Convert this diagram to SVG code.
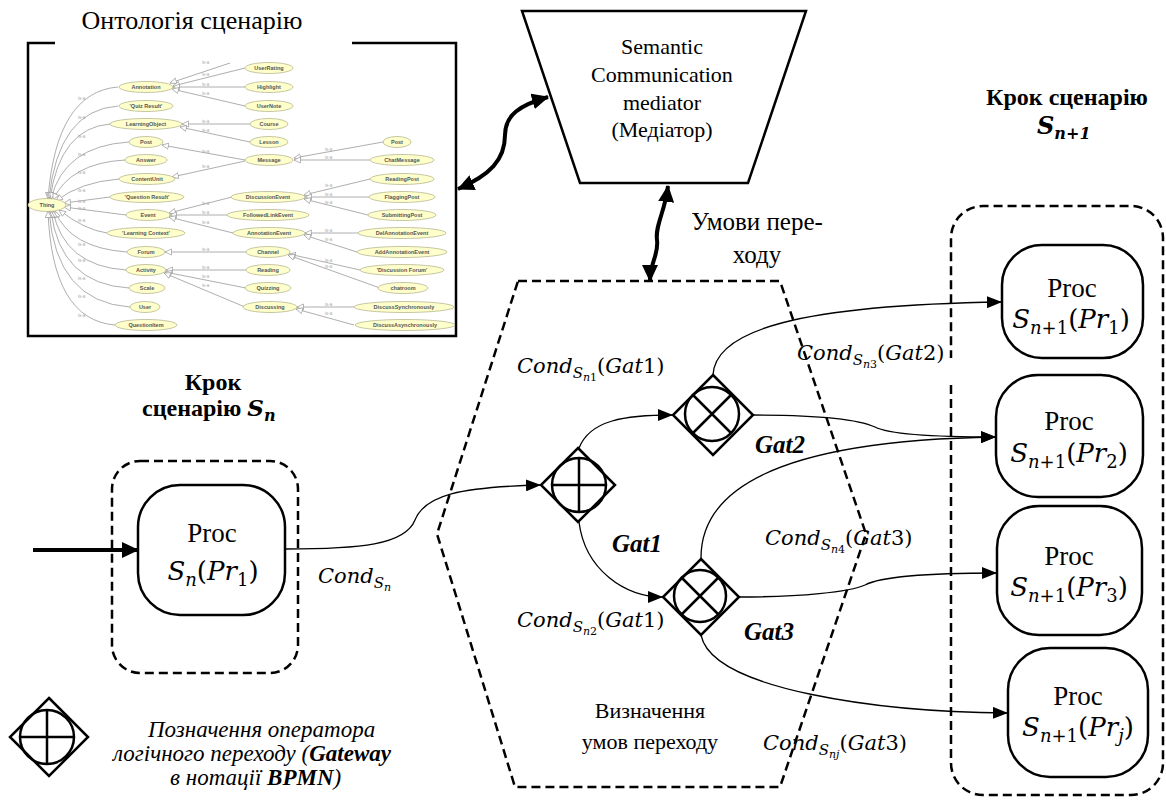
<svg xmlns="http://www.w3.org/2000/svg" width="1166" height="809" viewBox="0 0 1166 809">
<style>
.serif{font-family:"Liberation Serif","Times New Roman",serif;fill:#000}
.math{font-family:"DejaVu Serif","Liberation Serif",serif;fill:#000}
.ont{fill:#ffffcc;stroke:#b8b890;stroke-width:0.8}
.ol{font-family:"Liberation Sans",Arial,sans-serif;font-weight:bold;font-size:5.5px;fill:#555;text-anchor:middle}
.isa{font-family:"Liberation Sans",Arial,sans-serif;font-size:4.5px;fill:#aaa}
.oe{fill:none;stroke:#999;stroke-width:0.8;marker-start:url(#hol)}
.dash{fill:none;stroke:#000;stroke-width:2.5;stroke-dasharray:9,5}
.box{fill:#fff;stroke:#000;stroke-width:2.5}
.gw{fill:none;stroke:#000;stroke-width:2.5}
.con{fill:none;stroke:#000;stroke-width:1.3;marker-end:url(#ah)}
.thick{fill:none;stroke:#000;stroke-width:4}
</style>
<defs>
<marker id="ah" markerUnits="userSpaceOnUse" markerWidth="16" markerHeight="12" refX="15" refY="6" orient="auto"><path d="M0,0 L15,6 L0,12 z" fill="#000"/></marker>
<marker id="tk" markerUnits="userSpaceOnUse" markerWidth="18" markerHeight="16" refX="16" refY="8" orient="auto-start-reverse"><path d="M0,0 L17,8 L0,16 z" fill="#000"/></marker>
<marker id="hol" markerUnits="userSpaceOnUse" markerWidth="8" markerHeight="8" refX="7" refY="3.5" orient="auto-start-reverse"><path d="M0.5,0.5 L7,3.5 L0.5,6.5 z" fill="#fff" stroke="#999" stroke-width="0.7"/></marker>
</defs>

<!-- Ontology picture -->
<g id="ontology">
<text class="serif" x="192" y="29" font-size="26" text-anchor="middle">Онтологія сценарію</text>
<path d="M55,43 L28,43 L28,336 L456,336 L456,43 L352,43" fill="none" stroke="#000" stroke-width="2.5"/>
<g id="ont-edges">
<path class="oe" d="M48,199 Q56,92 118,87"/>
<path class="oe" d="M49,199 Q58,110 118,106"/>
<path class="oe" d="M50,199 Q60,128 110,124"/>
<path class="oe" d="M51,199 Q64,146 129,142"/>
<path class="oe" d="M53,200 Q70,163 125,160"/>
<path class="oe" d="M56,201 Q80,182 119,179"/>
<path class="oe" d="M64,203 L110,197"/>
<path class="oe" d="M64,207 L126,215"/>
<path class="oe" d="M59,210 Q85,230 107,233"/>
<path class="oe" d="M55,211 Q70,248 127,252"/>
<path class="oe" d="M53,211 Q64,266 126,270"/>
<path class="oe" d="M51,211 Q60,284 129,288"/>
<path class="oe" d="M49,211 Q56,302 130,307"/>
<path class="oe" d="M48,211 Q52,320 115,325"/>
<path class="oe" d="M170,83 L230,63"/>
<path class="oe" d="M173,86 L245,68"/>
<path class="oe" d="M173,87 L245,87"/>
<path class="oe" d="M172,89 L245,106"/>
<path class="oe" d="M182,124 L250,124"/>
<path class="oe" d="M180,127 L250,142"/>
<path class="oe" d="M162,145 L245,160"/>
<path class="oe" d="M172,177 L245,161"/>
<path class="oe" d="M294,158 L383,142"/>
<path class="oe" d="M294,160 L370,160"/>
<path class="oe" d="M304,195 L370,179"/>
<path class="oe" d="M305,197 L369,197"/>
<path class="oe" d="M304,199 L368,215"/>
<path class="oe" d="M169,213 L232,197"/>
<path class="oe" d="M170,215 L227,215"/>
<path class="oe" d="M169,217 L233,233"/>
<path class="oe" d="M305,233 L358,233"/>
<path class="oe" d="M304,235 L357,252"/>
<path class="oe" d="M165,252 L246,252"/>
<path class="oe" d="M289,254 L360,270"/>
<path class="oe" d="M288,255 L380,288"/>
<path class="oe" d="M166,270 L246,270"/>
<path class="oe" d="M165,272 L246,288"/>
<path class="oe" d="M164,273 L245,307"/>
<path class="oe" d="M297,307 L354,307"/>
<path class="oe" d="M296,309 L354,325"/>
</g>
<g id="ont-isa">
<text class="isa" x="78" y="100">is-a</text><text class="isa" x="78" y="119">is-a</text>
<text class="isa" x="78" y="138">is-a</text><text class="isa" x="78" y="156">is-a</text>
<text class="isa" x="78" y="174">is-a</text><text class="isa" x="78" y="192">is-a</text>
<text class="isa" x="78" y="203">is-a</text><text class="isa" x="78" y="210">is-a</text>
<text class="isa" x="78" y="222">is-a</text><text class="isa" x="78" y="246">is-a</text>
<text class="isa" x="78" y="262">is-a</text><text class="isa" x="78" y="280">is-a</text>
<text class="isa" x="78" y="298">is-a</text><text class="isa" x="78" y="317">is-a</text>
<text class="isa" x="202" y="64">is-a</text><text class="isa" x="202" y="76">is-a</text>
<text class="isa" x="202" y="86">is-a</text><text class="isa" x="202" y="95">is-a</text>
<text class="isa" x="202" y="123">is-a</text><text class="isa" x="202" y="132">is-a</text>
<text class="isa" x="202" y="153">is-a</text><text class="isa" x="202" y="168">is-a</text>
<text class="isa" x="202" y="205">is-a</text><text class="isa" x="202" y="214">is-a</text>
<text class="isa" x="202" y="224">is-a</text><text class="isa" x="202" y="251">is-a</text>
<text class="isa" x="202" y="269">is-a</text><text class="isa" x="202" y="278">is-a</text>
<text class="isa" x="202" y="287">is-a</text>
<text class="isa" x="325" y="151">is-a</text><text class="isa" x="325" y="159">is-a</text>
<text class="isa" x="325" y="187">is-a</text><text class="isa" x="325" y="196">is-a</text>
<text class="isa" x="325" y="204">is-a</text><text class="isa" x="325" y="232">is-a</text>
<text class="isa" x="325" y="241">is-a</text><text class="isa" x="325" y="262">is-a</text>
<text class="isa" x="325" y="268">is-a</text><text class="isa" x="325" y="306">is-a</text>
<text class="isa" x="325" y="315">is-a</text>
</g>
<g id="ont-nodes">
<ellipse class="ont" cx="47" cy="205" rx="19" ry="6.5"/><text class="ol" x="47" y="207">Thing</text>
<ellipse class="ont" cx="146" cy="87" rx="27" ry="5.5"/><text class="ol" x="146" y="89">Annotation</text>
<ellipse class="ont" cx="146" cy="106" rx="27" ry="5.5"/><text class="ol" x="146" y="108">'Quiz Result'</text>
<ellipse class="ont" cx="146" cy="124" rx="36" ry="5.5"/><text class="ol" x="146" y="126">LearningObject</text>
<ellipse class="ont" cx="146" cy="142" rx="17" ry="5.5"/><text class="ol" x="146" y="144">Post</text>
<ellipse class="ont" cx="146" cy="160" rx="21" ry="5.5"/><text class="ol" x="146" y="162">Answer</text>
<ellipse class="ont" cx="147" cy="179" rx="28" ry="5.5"/><text class="ol" x="147" y="181">ContentUnit</text>
<ellipse class="ont" cx="147" cy="197" rx="37" ry="5.5"/><text class="ol" x="147" y="199">'Question Result'</text>
<ellipse class="ont" cx="148" cy="215" rx="22" ry="5.5"/><text class="ol" x="148" y="217">Event</text>
<ellipse class="ont" cx="146" cy="233" rx="39" ry="5.5"/><text class="ol" x="146" y="235">'Learning Context'</text>
<ellipse class="ont" cx="146" cy="252" rx="19" ry="5.5"/><text class="ol" x="146" y="254">Forum</text>
<ellipse class="ont" cx="146" cy="270" rx="20" ry="5.5"/><text class="ol" x="146" y="272">Activity</text>
<ellipse class="ont" cx="147" cy="288" rx="18" ry="5.5"/><text class="ol" x="147" y="290">Scale</text>
<ellipse class="ont" cx="145" cy="307" rx="15" ry="5.5"/><text class="ol" x="145" y="309">User</text>
<ellipse class="ont" cx="146" cy="325" rx="31" ry="5.5"/><text class="ol" x="146" y="327">QuestionItem</text>
<ellipse class="ont" cx="269" cy="68" rx="24" ry="5.5"/><text class="ol" x="269" y="70">UserRating</text>
<ellipse class="ont" cx="269" cy="87" rx="24" ry="5.5"/><text class="ol" x="269" y="89">Highlight</text>
<ellipse class="ont" cx="269" cy="106" rx="24" ry="5.5"/><text class="ol" x="269" y="108">UserNote</text>
<ellipse class="ont" cx="269" cy="124" rx="19" ry="5.5"/><text class="ol" x="269" y="126">Course</text>
<ellipse class="ont" cx="269" cy="142" rx="19" ry="5.5"/><text class="ol" x="269" y="144">Lesson</text>
<ellipse class="ont" cx="269" cy="160" rx="24" ry="5.5"/><text class="ol" x="269" y="162">Message</text>
<ellipse class="ont" cx="268" cy="197" rx="37" ry="5.5"/><text class="ol" x="268" y="199">DiscussionEvent</text>
<ellipse class="ont" cx="268" cy="215" rx="41" ry="5.5"/><text class="ol" x="268" y="217">FollowedLinkEvent</text>
<ellipse class="ont" cx="269" cy="233" rx="36" ry="5.5"/><text class="ol" x="269" y="235">AnnotationEvent</text>
<ellipse class="ont" cx="268" cy="252" rx="22" ry="5.5"/><text class="ol" x="268" y="254">Channel</text>
<ellipse class="ont" cx="268" cy="270" rx="22" ry="5.5"/><text class="ol" x="268" y="272">Reading</text>
<ellipse class="ont" cx="268" cy="288" rx="23" ry="5.5"/><text class="ol" x="268" y="290">Quizzing</text>
<ellipse class="ont" cx="270" cy="307" rx="27" ry="5.5"/><text class="ol" x="270" y="309">Discussing</text>
<ellipse class="ont" cx="397" cy="142" rx="14" ry="5.5"/><text class="ol" x="397" y="144">Post</text>
<ellipse class="ont" cx="402" cy="160" rx="32" ry="5.5"/><text class="ol" x="402" y="162">ChatMessage</text>
<ellipse class="ont" cx="402" cy="179" rx="32" ry="5.5"/><text class="ol" x="402" y="181">ReadingPost</text>
<ellipse class="ont" cx="402" cy="197" rx="33" ry="5.5"/><text class="ol" x="402" y="199">FlaggingPost</text>
<ellipse class="ont" cx="402" cy="215" rx="34" ry="5.5"/><text class="ol" x="402" y="217">SubmittingPost</text>
<ellipse class="ont" cx="402" cy="233" rx="44" ry="5.5"/><text class="ol" x="402" y="235">DelAnnotationEvent</text>
<ellipse class="ont" cx="402" cy="252" rx="45" ry="5.5"/><text class="ol" x="402" y="254">AddAnnotationEvent</text>
<ellipse class="ont" cx="402" cy="270" rx="42" ry="5.5"/><text class="ol" x="402" y="272">'Discussion Forum'</text>
<ellipse class="ont" cx="403" cy="288" rx="25" ry="5.5"/><text class="ol" x="403" y="290">chatroom</text>
<ellipse class="ont" cx="404" cy="307" rx="50" ry="5.5"/><text class="ol" x="404" y="309">DiscussSynchronously</text>
<ellipse class="ont" cx="405" cy="325" rx="50" ry="5.5"/><text class="ol" x="405" y="327">DiscussAsynchronously</text>
</g>
</g>

<!-- Mediator -->
<g id="mediator">
<path class="box" d="M522,11 L806,11 L748,183 L580,183 Z"/>
<text class="serif" font-size="22" text-anchor="middle"><tspan x="662" y="54">Semantic</tspan><tspan x="662" y="82">Communication</tspan><tspan x="662" y="110">mediator</tspan><tspan x="662" y="137">(Медіатор)</tspan></text>
</g>

<!-- Step S_n+1 title -->
<g id="title-sn1">
<text class="serif" font-size="24" font-weight="bold" text-anchor="middle" x="1067" y="105">Крок сценарію</text>
<text class="math" font-size="24" font-weight="bold" font-style="italic" x="1037" y="134">S<tspan font-size="16" dy="5">n+1</tspan></text>
</g>

<!-- Step S_n title -->
<g id="title-sn">
<text class="serif" font-size="24" font-weight="bold" text-anchor="middle" x="213" y="390">Крок</text>
<text class="serif" font-size="24" font-weight="bold" x="142" y="416">сценарію <tspan class="math" font-style="italic" font-size="23">S</tspan><tspan class="math" font-style="italic" font-size="16" dy="5">n</tspan></text>
</g>

<!-- Transition condition label -->
<g id="label-umovy">
<text class="serif" font-size="25" text-anchor="middle"><tspan x="757" y="230">Умови пере-</tspan><tspan x="757" y="263">ходу</tspan></text>
</g>

<!-- Hexagon region -->
<g id="hexagon">
<path class="dash" d="M518,281 L780,281 L866,534 L780,787 L515,787 L437,534 Z"/>
<text class="serif" font-size="22" text-anchor="middle"><tspan x="650" y="718">Визначення</tspan><tspan x="650" y="749">умов переходу</tspan></text>
</g>

<!-- Left step -->
<g id="step-sn">
<rect class="dash" x="112" y="461" width="186" height="212" rx="28"/>
</g>
<g id="proc-sn">
<rect class="box" x="138" y="485" width="147" height="130" rx="42"/>
<text class="serif" font-size="27" text-anchor="middle" x="212" y="542">Proc</text>
<text class="math" font-size="26" text-anchor="middle" x="213" y="580"><tspan font-style="italic">S</tspan><tspan font-style="italic" font-size="18" dy="6">n</tspan><tspan dy="-6">(</tspan><tspan font-style="italic">Pr</tspan><tspan font-size="18" dy="6">1</tspan><tspan dy="-6">)</tspan></text>
</g>

<!-- Right step -->
<g id="step-sn1">
<path class="dash" d="M951,385 L951,763 A32,32 0 0 0 983,795 L1131,795 A32,32 0 0 0 1163,763 L1163,238 A32,32 0 0 0 1131,206 L983,206 A32,32 0 0 0 951,238 L951,358"/>
</g>
<g id="proc-pr1">
<rect class="box" x="1002" y="245" width="141" height="113" rx="40"/>
<text class="serif" font-size="27" text-anchor="middle" x="1072" y="297">Proc</text>
<text class="math" font-size="26" text-anchor="middle" x="1071" y="328"><tspan font-style="italic">S</tspan><tspan font-size="18" dy="6"><tspan font-style="italic">n</tspan>+1</tspan><tspan dy="-6">(</tspan><tspan font-style="italic">Pr</tspan><tspan font-size="18" dy="6">1</tspan><tspan dy="-6">)</tspan></text>
</g>
<g id="proc-pr2">
<rect class="box" x="996" y="375" width="147" height="122" rx="42"/>
<text class="serif" font-size="27" text-anchor="middle" x="1069" y="430">Proc</text>
<text class="math" font-size="26" text-anchor="middle" x="1069" y="462"><tspan font-style="italic">S</tspan><tspan font-size="18" dy="6"><tspan font-style="italic">n</tspan>+1</tspan><tspan dy="-6">(</tspan><tspan font-style="italic">Pr</tspan><tspan font-size="18" dy="6">2</tspan><tspan dy="-6">)</tspan></text>
</g>
<g id="proc-pr3">
<rect class="box" x="997" y="506" width="145" height="129" rx="42"/>
<text class="serif" font-size="27" text-anchor="middle" x="1069" y="565">Proc</text>
<text class="math" font-size="26" text-anchor="middle" x="1069" y="596"><tspan font-style="italic">S</tspan><tspan font-size="18" dy="6"><tspan font-style="italic">n</tspan>+1</tspan><tspan dy="-6">(</tspan><tspan font-style="italic">Pr</tspan><tspan font-size="18" dy="6">3</tspan><tspan dy="-6">)</tspan></text>
</g>
<g id="proc-prj">
<rect class="box" x="1008" y="648" width="140" height="129" rx="42"/>
<text class="serif" font-size="27" text-anchor="middle" x="1078" y="705">Proc</text>
<text class="math" font-size="26" text-anchor="middle" x="1078" y="736"><tspan font-style="italic">S</tspan><tspan font-size="18" dy="6"><tspan font-style="italic">n</tspan>+1</tspan><tspan dy="-6">(</tspan><tspan font-style="italic">Pr</tspan><tspan font-size="18" dy="6" font-style="italic">j</tspan><tspan dy="-6">)</tspan></text>
</g>

<!-- Gateways -->
<g id="gat1">
<path class="gw" d="M578,448 L615,485 L578,522 L541,485 Z"/>
<circle class="gw" cx="579" cy="485" r="27"/>
<path class="gw" d="M552,485 L606,485 M579,458 L579,512"/>
<text class="serif" font-size="25" font-weight="bold" font-style="italic" x="612" y="552">Gat1</text>
</g>
<g id="gat2">
<path class="gw" d="M713,375 L753,415 L713,455 L673,415 Z"/>
<circle class="gw" cx="712" cy="414" r="27"/>
<path class="gw" d="M693,395 L731,433 M731,395 L693,433"/>
<text class="serif" font-size="25" font-weight="bold" font-style="italic" x="755" y="453">Gat2</text>
</g>
<g id="gat3">
<path class="gw" d="M701,559 L739,597 L701,635 L663,597 Z"/>
<circle class="gw" cx="700" cy="596" r="26"/>
<path class="gw" d="M682,578 L718,614 M718,578 L682,614"/>
<text class="serif" font-size="25" font-weight="bold" font-style="italic" x="744" y="640">Gat3</text>
</g>

<!-- Legend -->
<g id="legend">
<path class="gw" d="M49,698 L88,737 L49,776 L10,737 Z"/>
<circle class="gw" cx="47" cy="737" r="27"/>
<path class="gw" d="M20,737 L74,737 M47,710 L47,764"/>
<text class="serif" font-size="23" font-style="italic"><tspan x="148" y="737">Позначення оператора</tspan><tspan x="113" y="761">логічного переходу (<tspan font-weight="bold">Gateway</tspan></tspan><tspan x="170" y="785">в нотації <tspan font-weight="bold">BPMN</tspan>)</tspan></text>
</g>

<!-- Condition labels -->
<g id="cond-labels">
<text class="math" font-size="21" x="318" y="583"><tspan font-style="italic">Cond</tspan><tspan font-style="italic" font-size="15" dy="5">S</tspan><tspan font-style="italic" font-size="11" dy="3">n</tspan></text>
<text class="math" font-size="21" x="517" y="373"><tspan font-style="italic">Cond</tspan><tspan font-style="italic" font-size="15" dy="5">S</tspan><tspan font-size="11" dy="3"><tspan font-style="italic">n</tspan>1</tspan><tspan dy="-8">(</tspan><tspan font-style="italic">Gat</tspan>1)</text>
<text class="math" font-size="21" x="517" y="627"><tspan font-style="italic">Cond</tspan><tspan font-style="italic" font-size="15" dy="5">S</tspan><tspan font-size="11" dy="3"><tspan font-style="italic">n</tspan>2</tspan><tspan dy="-8">(</tspan><tspan font-style="italic">Gat</tspan>1)</text>
<text class="math" font-size="21" x="797" y="360"><tspan font-style="italic">Cond</tspan><tspan font-style="italic" font-size="15" dy="5">S</tspan><tspan font-size="11" dy="3"><tspan font-style="italic">n</tspan>3</tspan><tspan dy="-8">(</tspan><tspan font-style="italic">Gat</tspan>2)</text>
<text class="math" font-size="21" x="765" y="545"><tspan font-style="italic">Cond</tspan><tspan font-style="italic" font-size="15" dy="5">S</tspan><tspan font-size="11" dy="3"><tspan font-style="italic">n</tspan>4</tspan><tspan dy="-8">(</tspan><tspan font-style="italic">Gat</tspan>3)</text>
<text class="math" font-size="21" x="763" y="750"><tspan font-style="italic">Cond</tspan><tspan font-style="italic" font-size="15" dy="5">S</tspan><tspan font-size="11" dy="3" font-style="italic">nj</tspan><tspan dy="-8">(</tspan><tspan font-style="italic">Gat</tspan>3)</text>
</g>

<!-- Connectors -->
<g id="connectors">
<path class="thick" marker-end="url(#tk)" d="M33,550 L138,550"/>
<path class="thick" marker-start="url(#tk)" marker-end="url(#tk)" d="M458,189 C490,175 505,160 505,135 C505,115 520,105 548,97"/>
<path class="thick" marker-start="url(#tk)" marker-end="url(#tk)" d="M668,186 C665,212 655,225 657,240 C659,255 650,262 650,281"/>
<path class="con" d="M285,549 C360,549 405,545 415,520 C425,495 460,487 541,485"/>
<path class="con" d="M579,448 C590,420 625,415 673,415"/>
<path class="con" d="M579,522 C585,570 625,597 663,597"/>
<path class="con" d="M713,375 C715,330 800,305 1002,302"/>
<path class="con" d="M753,415 C820,415 860,420 875,427 C890,435 940,437 996,437"/>
<path class="con" d="M701,559 C700,480 800,440 996,437"/>
<path class="con" d="M739,597 C800,597 850,592 865,585 C880,577 930,573 997,573"/>
<path class="con" d="M701,635 C712,690 880,712 1008,713"/>
</g>
</svg>
